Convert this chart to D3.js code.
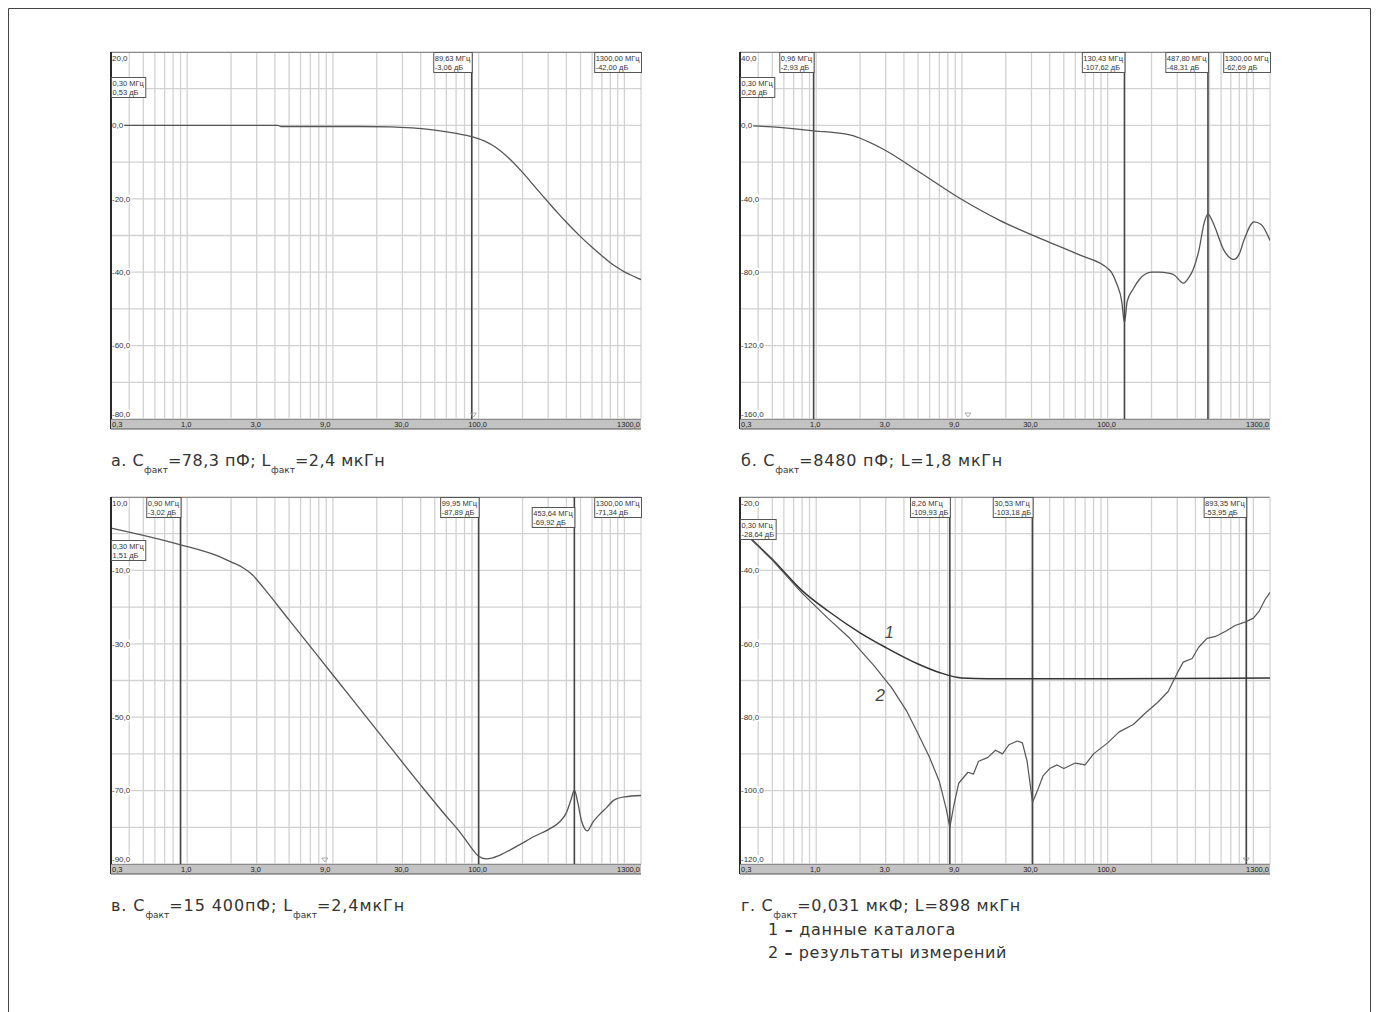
<!DOCTYPE html>
<html>
<head>
<meta charset="utf-8">
<script src="https://cdn.jsdelivr.net/npm/d3@7"></script>
<style>
    body { margin: 0; background: #fff; }
    svg text { font-family: "Liberation Sans", sans-serif; }
    .caption { font-family: "DejaVu Sans", sans-serif; fill: #333; }
</style>
</head>
<body>
<div id="chart"></div>
<script>
// shared frequency axis (MHz), log sweep 0.3 .. 1300
const freqTicks = [0.3, 1, 3, 9, 30, 100, 1300];
const freqTickLabels = ['0,3', '1,0', '3,0', '9,0', '30,0', '100,0', '1300,0'];

// --- а. ---
const aFreq = [0.3, 0.6, 1, 3, 4.2, 4.4, 9, 15, 25, 35, 50, 70, 89.63, 110, 130, 160, 200, 250, 300, 350, 400, 500, 600, 700, 800, 900, 1000, 1100, 1200, 1300];
const aDb = [0, 0, 0, 0, 0, -0.3, -0.3, -0.3, -0.4, -0.7, -1.3, -2.2, -3.06, -4.3, -5.9, -8.8, -12.8, -17.3, -20.9, -23.9, -26.4, -30.3, -33.2, -35.5, -37.4, -38.8, -39.9, -40.7, -41.4, -42];
const aYTicks = [20, 0, -20, -40, -60, -80];
const aYLabels = ['20,0', '0,0', '-20,0', '-40,0', '-60,0', '-80,0'];
const aMarkerFreq = [0.30, 89.63, 1300];
const aMarkerText = [['0,30 МГц', '0,53 дБ'], ['89,63 МГц', '-3,06 дБ'], ['1300,00 МГц', '-42,00 дБ']];
const aRefFreq = [92];

// --- б. ---
const bFreq = [0.3, 0.5, 0.96, 1.7, 2.95, 5.1, 9.6, 18, 34, 64, 103, 115, 125, 130.43, 136, 150, 165, 200, 226, 260, 286, 331, 360, 385, 423, 460, 487.8, 535, 627, 735, 800, 862, 1011, 1130, 1300];
const bDb = [0, -0.8, -2.93, -5.2, -13.4, -25.4, -39.6, -51.6, -61.4, -70.6, -78.8, -86, -96, -107.6, -96, -89, -84, -80, -80, -80.5, -81.5, -86, -83, -78.8, -68, -53, -48.3, -54, -68, -73, -70, -62.5, -52.6, -54, -62.7];
const bYTicks = [40, 0, -40, -80, -120, -160];
const bYLabels = ['40,0', '0,0', '-40,0', '-80,0', '-120,0', '-160,0'];
const bMarkerFreq = [0.30, 0.96, 130.43, 487.80, 1300];
const bMarkerText = [['0,30 МГц', '0,26 дБ'], ['0,96 МГц', '-2,93 дБ'], ['130,43 МГц', '-107,62 дБ'], ['487,80 МГц', '-48,31 дБ'], ['1300,00 МГц', '-62,69 дБ']];
const bRefFreq = [11];

// --- в. ---
const cFreq = [0.3, 0.9, 1.6, 2.0, 2.4, 2.8, 3.3, 5, 10, 20, 40, 60, 75, 90, 100, 112, 125, 150, 190, 240, 305, 360, 400, 430, 453.64, 480, 510, 557, 610, 671, 760, 848, 1005, 1300];
const cDb = [1.51, -3.02, -6, -7.7, -9.2, -11.2, -14.5, -23.5, -38.5, -53.5, -68.5, -77, -81.5, -85.8, -87.9, -88.6, -88.3, -87, -84.8, -82.5, -80.5, -78.5, -76, -72.5, -69.9, -73.5, -78.5, -81, -78.5, -76.6, -74.5, -72.6, -71.7, -71.34];
const cYTicks = [10, -10, -30, -50, -70, -90];
const cYLabels = ['10,0', '-10,0', '-30,0', '-50,0', '-70,0', '-90,0'];
const cMarkerFreq = [0.30, 0.90, 99.95, 453.64, 1300];
const cMarkerText = [['0,30 МГц', '1,51 дБ'], ['0,90 МГц', '-3,02 дБ'], ['99,95 МГц', '-87,89 дБ'], ['453,64 МГц', '-69,92 дБ'], ['1300,00 МГц', '-71,34 дБ']];
const cRefFreq = [8.8];

// --- г. --- 1: catalogue, 2: measured
const dCatFreq = [0.3, 0.5, 0.8, 1.2, 2, 3, 5, 7, 10, 15, 30, 100, 1300];
const dCatDb = [-28.6, -37, -45.5, -51, -57, -61, -65.5, -67.8, -69.3, -69.5, -69.5, -69.5, -69.3];
const dMeasFreq = [0.3, 0.5, 0.8, 1.2, 1.7, 2.5, 3.3, 4.2, 5, 6, 7, 7.8, 8.26, 8.8, 9.5, 11, 12, 13, 15, 17, 19, 21, 24, 26, 28, 30.53, 33, 36, 40, 45, 50, 60, 70, 80, 100, 120, 150, 180, 220, 260, 300, 330, 380, 420, 480, 550, 650, 750, 893.35, 1000, 1100, 1200, 1300];
const dMeasDb = [-28.6, -37.2, -46.2, -53, -58.5, -66, -72, -78.5, -84.5, -91, -97.5, -105, -110, -104, -98, -95, -95.5, -92, -91, -89, -90, -87.5, -86.5, -87, -92, -103.2, -100, -96, -94, -93, -94, -92.5, -93, -90, -87, -84, -82, -79, -76, -73, -68, -65, -64, -61, -58.5, -58, -56.5, -55, -53.95, -53, -51, -48, -46];
const dYTicks = [-20, -40, -60, -80, -100, -120];
const dYLabels = ['-20,0', '-40,0', '-60,0', '-80,0', '-100,0', '-120,0'];
const dMarkerFreq = [0.30, 8.26, 30.53, 893.35];
const dMarkerText = [['0,30 МГц', '-28,64 дБ'], ['8,26 МГц', '-109,93 дБ'], ['30,53 МГц', '-103,18 дБ'], ['893,35 МГц', '-53,95 дБ']];
const dRefFreq = [893.35];

const W = 1379, H = 1012;
const plotW = 530, plotH = 367;

const svg = d3.select('#chart').append('svg')
    .attr('width', W).attr('height', H)
    .style('display', 'block');

svg.append('rect').attr('width', W).attr('height', H).attr('fill', '#fff');

// page frame (left, top, right)
svg.append('path')
    .attr('d', 'M8.5,' + H + 'V8.5H1370.5V' + H)
    .attr('fill', 'none').attr('stroke', '#444').attr('stroke-width', 1);

function zip(f, v) { return f.map((d, i) => [d, v[i]]); }

function drawPanel(p) {
    const g = svg.append('g').attr('transform', `translate(${p.left},${p.top})`);
    const x = d3.scaleLog().domain([0.3, 1300]).range([0, plotW]);
    const y = d3.scaleLinear().domain(p.yDomain).range([plotH, 0]);

    const clipId = 'clip-' + p.id;
    g.append('clipPath').attr('id', clipId)
        .append('rect').attr('width', plotW).attr('height', plotH);

    // grid
    g.append('g').selectAll('line').data(x.ticks()).join('line')
        .attr('x1', d => x(d)).attr('x2', d => x(d))
        .attr('y1', 0).attr('y2', plotH)
        .attr('stroke', '#d2d2d2').attr('stroke-width', 1.3);
    g.append('g').selectAll('line').data(y.ticks(10)).join('line')
        .attr('x1', 0).attr('x2', plotW)
        .attr('y1', d => y(d)).attr('y2', d => y(d))
        .attr('stroke', '#d2d2d2').attr('stroke-width', 1.3);

    // top and right border
    g.append('line').attr('x1', 0).attr('x2', plotW).attr('y1', 0.5).attr('y2', 0.5)
        .attr('stroke', '#8a8a8a');
    g.append('line').attr('x1', plotW).attr('x2', plotW).attr('y1', 0).attr('y2', plotH)
        .attr('stroke', '#c8c8c8');

    // marker lines (edge markers sit on the frame)
    p.markerFreq.forEach(function(f) {
        if (f > 0.3 && f < 1300) {
            g.append('line').attr('x1', x(f)).attr('x2', x(f)).attr('y1', 0).attr('y2', plotH)
                .attr('stroke', '#444').attr('stroke-width', 1.6);
        }
    });

    // small reference triangles near the bottom
    g.append('g').selectAll('path').data(p.refFreq).join('path')
        .attr('transform', d => `translate(${x(d)},${plotH - 4})`)
        .attr('d', 'M-3,-2L3,-2L0,2Z')
        .attr('fill', 'none').attr('stroke', '#999').attr('stroke-width', 0.8);

    // traces
    const line = d3.line().x(d => x(d[0])).y(d => y(d[1]));
    p.traces.forEach(function(t) {
        g.append('path')
            .attr('clip-path', `url(#${clipId})`)
            .attr('d', line.curve(t.smooth ? d3.curveMonotoneX : d3.curveLinear)(zip(t.f, t.v)))
            .attr('fill', 'none')
            .attr('stroke', t.color)
            .attr('stroke-width', t.width)
            .attr('stroke-linejoin', 'round');
    });

    // y labels, with a white knock-out behind them
    p.yTicks.forEach(function(d, i) {
        const by = Math.max(9, Math.min(plotH - 2, y(d) + 2.8));
        const t = g.append('text')
            .attr('x', 1).attr('y', by)
            .attr('font-size', 8).attr('fill', '#333')
            .text(p.yLabels[i]);
        const w = t.node().getComputedTextLength();
        g.insert('rect', 'text')
            .attr('x', 0).attr('y', by - 7).attr('width', w + 2).attr('height', 8.5)
            .attr('fill', '#fff');
    });

    // left axis line
    g.append('line').attr('x1', 0).attr('x2', 0).attr('y1', 0).attr('y2', plotH + 10)
        .attr('stroke', '#2a2a2a').attr('stroke-width', 2);

    // frequency band
    g.append('rect').attr('x', 0).attr('y', plotH).attr('width', plotW).attr('height', 10)
        .attr('fill', '#c3c3c3');
    g.append('line').attr('x1', 0).attr('x2', plotW).attr('y1', plotH + 0.5).attr('y2', plotH + 0.5)
        .attr('stroke', '#8c8c8c');
    g.append('line').attr('x1', 0).attr('x2', plotW).attr('y1', plotH + 10).attr('y2', plotH + 10)
        .attr('stroke', '#555').attr('stroke-width', 1.2);
    g.append('g').selectAll('text').data(freqTicks).join('text')
        .attr('x', (d, i) => i === 0 ? 1 : (i === freqTicks.length - 1 ? plotW - 1 : x(d) - 1))
        .attr('y', plotH + 8)
        .attr('text-anchor', (d, i) => i === 0 ? 'start' : (i === freqTicks.length - 1 ? 'end' : 'middle'))
        .attr('font-size', 7.5).attr('fill', '#222')
        .text((d, i) => freqTickLabels[i]);

    // marker read-out boxes
    p.markerFreq.forEach(function(f, i) {
        const bg = g.append('g');
        const rect = bg.append('rect').attr('fill', '#fff').attr('stroke', '#555').attr('stroke-width', 1);
        const t1 = bg.append('text').attr('font-size', 7.5).attr('fill', '#333').text(p.markerText[i][0]);
        const t2 = bg.append('text').attr('font-size', 7.5).attr('fill', '#333').text(p.markerText[i][1]);
        const w = Math.max(t1.node().getComputedTextLength(), t2.node().getComputedTextLength()) + 3;
        let bx;
        if (f <= 0.3) bx = 0;
        else if (f >= 1300) bx = plotW - w;
        else bx = x(f) - w;
        const by = p.boxOffset[i];
        rect.attr('x', bx + 0.5).attr('y', by + 0.5).attr('width', w).attr('height', 20);
        t1.attr('x', bx + 1.5).attr('y', by + 8.5);
        t2.attr('x', bx + 1.5).attr('y', by + 17.5);
    });

    return { g: g, x: x, y: y };
}

drawPanel({
    id: 'a', left: 111, top: 52, yDomain: [-80, 20],
    yTicks: aYTicks, yLabels: aYLabels,
    markerFreq: aMarkerFreq, markerText: aMarkerText, boxOffset: [25, 0, 0],
    refFreq: aRefFreq,
    traces: [{ f: aFreq, v: aDb, color: '#555', width: 1.3, smooth: true }]
});

drawPanel({
    id: 'b', left: 740, top: 52, yDomain: [-160, 40],
    yTicks: bYTicks, yLabels: bYLabels,
    markerFreq: bMarkerFreq, markerText: bMarkerText, boxOffset: [25, 0, 0, 0, 0],
    refFreq: bRefFreq,
    traces: [{ f: bFreq, v: bDb, color: '#555', width: 1.3, smooth: true }]
});

drawPanel({
    id: 'c', left: 111, top: 497, yDomain: [-90, 10],
    yTicks: cYTicks, yLabels: cYLabels,
    markerFreq: cMarkerFreq, markerText: cMarkerText, boxOffset: [43, 0, 0, 10, 0],
    refFreq: cRefFreq,
    traces: [{ f: cFreq, v: cDb, color: '#555', width: 1.3, smooth: true }]
});

const panelD = drawPanel({
    id: 'd', left: 740, top: 497, yDomain: [-120, -20],
    yTicks: dYTicks, yLabels: dYLabels,
    markerFreq: dMarkerFreq, markerText: dMarkerText, boxOffset: [22, 0, 0, 0],
    refFreq: dRefFreq,
    traces: [
        { f: dCatFreq, v: dCatDb, color: '#333', width: 1.5, smooth: true },
        { f: dMeasFreq, v: dMeasDb, color: '#555', width: 1.2, smooth: false }
    ]
});

// hand-written curve numbers on г.
panelD.g.append('text').attr('x', panelD.x(2.95)).attr('y', panelD.y(-58.5))
    .attr('font-family', '"DejaVu Serif", serif').attr('font-style', 'italic')
    .attr('font-size', 16).attr('fill', '#444').text('1');
panelD.g.append('text').attr('x', panelD.x(2.55)).attr('y', panelD.y(-75.5))
    .attr('font-family', '"DejaVu Serif", serif').attr('font-style', 'italic')
    .attr('font-size', 17).attr('fill', '#444').text('2');

// captions: [text, isSubscript]
const captionA = [['а. С', 0], ['факт', 1], ['=78,3 пФ; L', 0], ['факт', 1], ['=2,4 мкГн', 0]];
const captionB = [['б. С', 0], ['факт', 1], ['=8480 пФ; L=1,8 мкГн', 0]];
const captionC = [['в. С', 0], ['факт', 1], ['=15 400пФ; L', 0], ['факт', 1], ['=2,4мкГн', 0]];
const captionD = [['г. С', 0], ['факт', 1], ['=0,031 мкФ; L=898 мкГн', 0]];
const legendD = [['1 ', '–', ' данные каталога'], ['2 ', '–', ' результаты измерений']];

// stretch the main-size letters so a line ends where the scanned one does
function fitWidth(t, width) {
    const len = t.node().getComputedTextLength();
    const main = t.selectAll('tspan.main');
    let n = 0;
    main.each(function() { n += this.textContent.length; });
    main.attr('letter-spacing', ((width - len) / n).toFixed(2));
}

function drawCaption(cx, cy, endX, parts) {
    const t = svg.append('text').attr('class', 'caption').attr('x', cx).attr('y', cy).attr('font-size', 16);
    let sub = false;
    parts.forEach(function(p) {
        const ts = t.append('tspan').attr('class', p[1] ? 'sub' : 'main').text(p[0]);
        if (p[1]) ts.attr('font-size', 9);
        if (p[1] && !sub) { ts.attr('dy', 7); sub = true; }
        else if (!p[1] && sub) { ts.attr('dy', -7); sub = false; }
    });
    fitWidth(t, endX - cx);
}

drawCaption(111, 466, 385, captionA);
drawCaption(741, 466, 1003, captionB);
drawCaption(111, 911, 405, captionC);
drawCaption(741, 911, 1021, captionD);
const legendEnd = [956, 1007];
legendD.forEach(function(s, i) {
    const t = svg.append('text').attr('class', 'caption').attr('x', 768).attr('y', 935 + i * 23)
        .attr('font-size', 16);
    t.append('tspan').attr('class', 'main').text(s[0]);
    t.append('tspan').attr('class', 'main').attr('font-weight', 'bold').text(s[1]);
    t.append('tspan').attr('class', 'main').text(s[2]);
    fitWidth(t, legendEnd[i] - 768);
});
</script>
</body>
</html>
